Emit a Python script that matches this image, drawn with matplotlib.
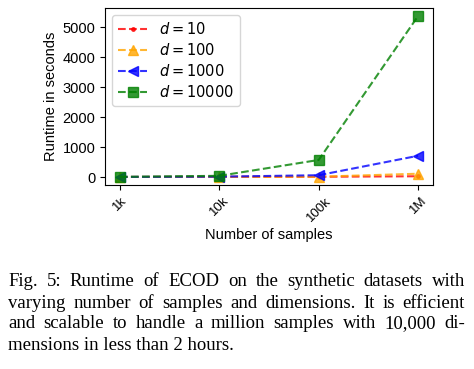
import matplotlib
matplotlib.use("Agg")
import matplotlib.pyplot as plt

samples = ["1k", "10k", "100k", "1M"]
runtime_d10 = [2, 5, 8, 25]
runtime_d100 = [2, 6, 10, 110]
runtime_d1000 = [3, 12, 60, 710]
runtime_d10000 = [5, 40, 570, 5380]
legend_labels = [r"$d=10$", r"$d=100$", r"$d=1000$", r"$d=10000$"]
caption_lines = [
    "Fig. 5: Runtime of ECOD on the synthetic datasets with",
    "varying number of samples and dimensions. It is efficient",
    "and scalable to handle a million samples with 10,000 di-",
    "mensions in less than 2 hours.",
]

plt.rcParams["font.family"] = ["Liberation Sans", "DejaVu Sans"]
plt.rcParams["mathtext.fontset"] = "dejavusans"

fig = plt.figure(figsize=(4.74, 3.69), dpi=100)
W, H = 474, 369
ax = fig.add_axes([105 / W, 1 - 185 / H, (433 - 105) / W, (185 - 8) / H])

x = list(range(len(samples)))
series = [runtime_d10, runtime_d100, runtime_d1000, runtime_d10000]
styles = [("r", ".", 5), ("orange", "^", 6.5), ("b", "<", 7), ("g", "s", 6.5)]
for vals, (c, m, ms), lab in zip(series, styles, legend_labels):
    ax.plot(x, vals, linestyle="--", color=c, marker=m, alpha=0.8, label=lab,
            markersize=ms)

ax.set_xticks(x)
ax.set_xticklabels(samples, rotation=45, fontsize=9.5)
ax.tick_params(axis="y", labelsize=10.5)
ax.set_xlabel("Number of samples", fontsize=10.5, labelpad=3)
ax.set_ylabel("Runtime in seconds", fontsize=10.5, labelpad=3)
ax.set_yticks([0, 1000, 2000, 3000, 4000, 5000])
ax.legend(loc="upper left", fontsize=10.5, labelspacing=0.35,
          borderaxespad=0.5, handlelength=2.0)

# justified caption
left, right = 8, 465
ys = [282, 303, 324, 345]
fig.canvas.draw()
renderer = fig.canvas.get_renderer()
cfont = dict(family="Liberation Serif", fontsize=13.5)
for i, (line, yp) in enumerate(zip(caption_lines, ys)):
    words = line.split(" ")
    yf = 1 - yp / H
    if i == len(caption_lines) - 1:
        fig.text(left / W, yf, line, va="center", ha="left", **cfont)
        continue
    texts = [fig.text(0, yf, w, va="center", ha="left", **cfont) for w in words]
    widths = [t.get_window_extent(renderer).width for t in texts]
    gap = (right - left - sum(widths)) / (len(words) - 1)
    xp = left
    for t, w in zip(texts, widths):
        t.set_x(xp / W)
        xp += w + gap

fig.savefig("out.png", dpi=100)
